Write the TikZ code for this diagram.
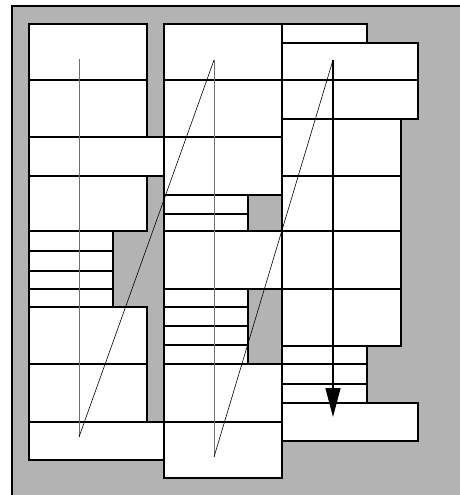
\documentclass[tikz,border=0pt]{standalone}
\usepackage{xcolor}
\definecolor{bggray}{RGB}{179,179,179}
\definecolor{trackgray}{RGB}{110,110,110}
\usetikzlibrary{arrows.meta}

\begin{document}
\begin{tikzpicture}[x=1pt, y=-1pt,
  cell/.style={fill=white, draw=black, line width=1.3pt},
  frame/.style={draw=black, line width=1.5pt},
  track/.style={draw=trackgray, line width=0.8pt},
  hop/.style={draw=black, line width=0.6pt},
  flow/.style={draw=black, line width=1.3pt, -{Triangle[width=15pt, length=29pt]}}]
  \useasboundingbox (0,0) rectangle (460,495);

  % --- Background ---
  \fill[bggray] (12,6) rectangle (460,495);
  \draw[frame] (12,495) -- (12,6) -- (460,6);

  % --- Column 1 ---
  \foreach \a/\b in {24/80, 80/137, 176/231, 307/364, 364/422}
    \draw[cell] (29,\a) rectangle (147,\b);
  \draw[cell] (29,137) rectangle (164,176);
  \draw[cell] (29,422) rectangle (164,460);
  \foreach \a/\b in {231/251, 251/271, 271/289, 289/307}
    \draw[cell] (29,\a) rectangle (113,\b);

  % --- Column 2 ---
  \foreach \a/\b in {24/80, 80/137, 137/195, 231/289, 364/422, 422/478}
    \draw[cell] (164,\a) rectangle (282,\b);
  \foreach \a/\b in {195/214, 214/231, 289/307, 307/326, 326/345, 345/364}
    \draw[cell] (164,\a) rectangle (248,\b);

  % --- Column 3 ---
  \draw[cell] (282,24) rectangle (367,43);
  \foreach \a/\b in {43/80, 80/119}
    \draw[cell] (282,\a) rectangle (418,\b);
  \foreach \a/\b in {119/176, 176/231, 231/289, 289/346}
    \draw[cell] (282,\a) rectangle (401,\b);
  \foreach \a/\b in {346/364, 364/384, 384/403}
    \draw[cell] (282,\a) rectangle (367,\b);
  \draw[cell] (282,403) rectangle (418,441);

  % --- Scan path ---
  \coordinate (t1) at (79,59);
  \coordinate (b1) at (79,437);
  \coordinate (t2) at (214,60);
  \coordinate (b2) at (214,457);
  \coordinate (t3) at (333,60);
  \coordinate (b3) at (333,417);

  \draw[track] (t1) -- (b1);
  \draw[track] (t2) -- (b2);
  \draw[hop] (b1) -- (t2);
  \draw[hop] (b2) -- (t3);
  \draw[flow] (t3) -- (b3);
\end{tikzpicture}
\end{document}
